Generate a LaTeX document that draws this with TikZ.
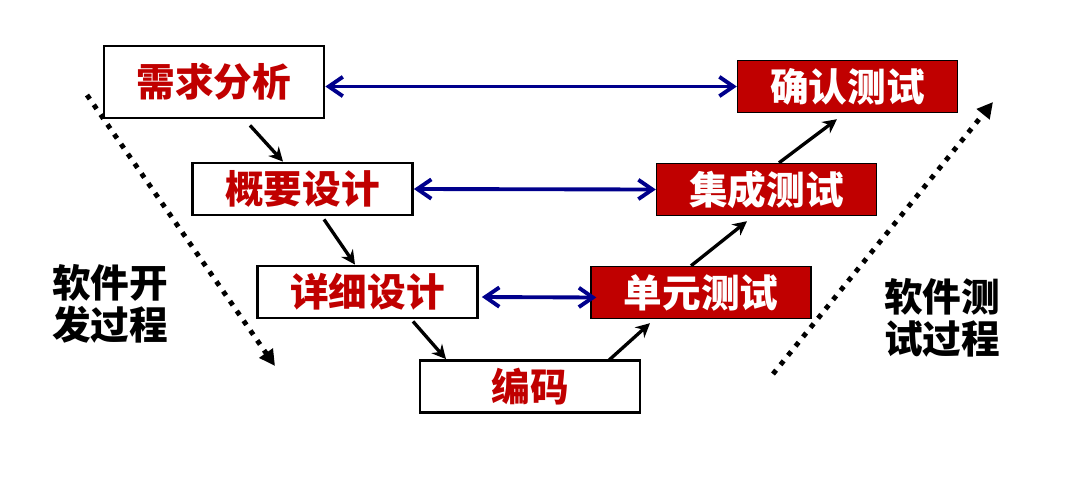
\documentclass[tikz,border=0pt]{standalone}
\usepackage{fontspec}
\setmainfont{Noto Sans CJK SC}[BoldFont={Noto Sans CJK SC Black}]
\usetikzlibrary{arrows.meta}
\definecolor{boxred}{RGB}{192,0,0}
\definecolor{linkblue}{RGB}{0,0,140}

\begin{document}
\begin{tikzpicture}[x=0.02cm, y=-0.02cm, >=Stealth,
    devbox/.style={draw, line width=1.6pt, minimum width=4.4cm, minimum height=1.04cm,
        inner sep=0pt, text=boxred, font=\bfseries\fontsize{22}{26}\selectfont},
    testbox/.style={devbox, fill=boxred, text=white, line width=0.8pt},
    flow/.style={-{Stealth[length=8pt,width=8pt]}, line width=1.9pt},
    link/.style={{Straight Barb[length=8pt,width=11pt]}-{Straight Barb[length=8pt,width=11pt]},
        line width=2.2pt, linkblue},
    phase/.style={-{Triangle[length=9pt,width=9pt]}, line width=2.8pt, dash pattern=on 2.8pt off 4pt},
    sidetext/.style={align=center, font=\bfseries\fontsize{22}{24}\selectfont}]
    \useasboundingbox (0,0) rectangle (1073,481);

    % left leg
    \node[devbox, minimum height=1.44cm] (req) at (214,82) {需求分析};
    \node[devbox] (gai) at (302.5,189) {概要设计};
    \node[devbox] (xx) at (367.5,292) {详细设计};
    \node[devbox] (code) at (530,386.5) {编码};

    % right leg
    \node[testbox] (unit) at (701,292.5) {单元测试};
    \node[testbox] (int) at (766.5,189.5) {集成测试};
    \node[testbox] (conf) at (847.5,86.5) {确认测试};

    \draw[flow] ([shift={(36,6)}]req.south) -- ([shift={(-19.5,0)}]gai.north);
    \draw[flow] ([shift={(21.5,3)}]gai.south) -- ([shift={(-12.5,0)}]xx.north);
    \draw[flow] ([shift={(45.5,2)}]xx.south) -- ([shift={(-84,0)}]code.north);
    \draw[flow] ([shift={(79,1)}]code.north) -- ([shift={(-51,4)}]unit.south);
    \draw[flow] ([shift={(-10,0)}]unit.north) -- ([shift={(-19.5,5)}]int.south);
    \draw[flow] ([shift={(12.5,0)}]int.north) -- ([shift={(-10.5,6)}]conf.south);

    \draw[link] (req.east |- conf.west) -- (conf.west);
    \draw[link] (gai.east) -- (int.west);
    \draw[link] ([shift={(3,5)}]xx.east) -- ([shift={(6,5)}]unit.west);

    \coordinate (devtop) at (87,95);
    \coordinate (devend) at (275,366);
    \coordinate (testtop) at (993,102);
    \coordinate (testend) at (773,374);
    \draw[phase] (devtop) -- (devend);
    \draw[phase] (testend) -- (testtop);

    \node[sidetext] (devlabel) at (110,304) {软件开\\发过程};
    \node[sidetext] (testlabel) at (942,318) {软件测\\试过程};
\end{tikzpicture}
\end{document}
